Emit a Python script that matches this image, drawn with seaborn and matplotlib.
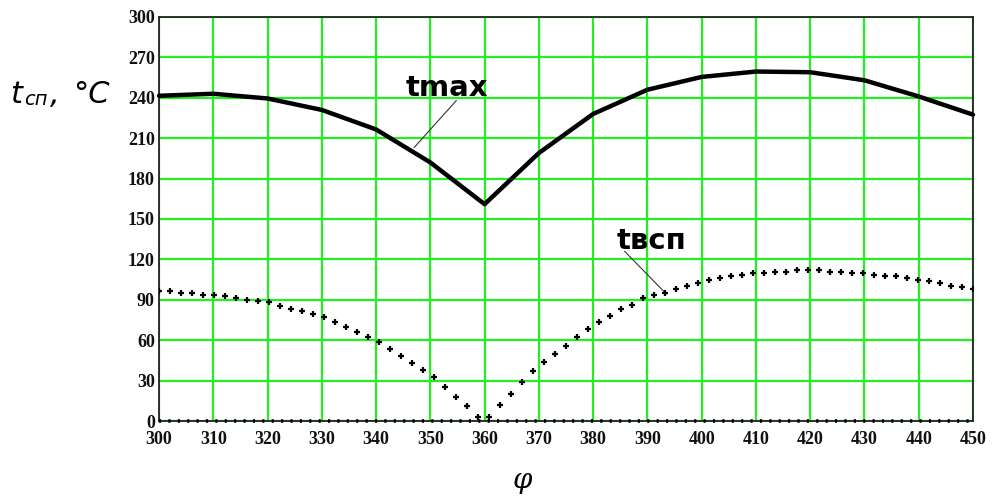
import numpy as np
import pandas as pd
import matplotlib
matplotlib.use("Agg")
import matplotlib.pyplot as plt
import seaborn as sns

# crank angle grid for the coarse maximum-temperature trace
phi_max = [300, 310, 320, 330, 340, 350, 360, 370, 380, 390,
           400, 410, 420, 430, 440, 450]
t_max = [241.5, 243, 239.5, 231, 216.5, 192, 161, 199, 228, 246,
         255.5, 259.5, 259, 253, 241, 227.5]

# ignition temperature, sampled on a finer grid
phi_vsp = np.linspace(300, 450, 75)
t_vsp = [96.2, 96.2, 95, 95, 93.7, 93.7, 92.5, 91.2, 90, 89, 88, 85.3, 83, 82, 79.6, 77,
         73.5, 69.7, 66.1, 62.3, 58.8, 53.4, 48.5, 42.7, 38, 32.4, 25.4, 17.9, 10.8, 3.3, 3.3,
         11.8, 20.3, 28.7, 36.8, 43.7, 49.5, 55.4, 62.3, 68.4, 73.2, 78.1, 82.9, 86.4, 91.3, 93.8,
         95.3, 97.9, 100.4, 102.8, 105, 106.2, 107.4, 108.6, 109.9, 109.9, 110.8, 110.8,
         112, 112, 112, 110.8, 110.8, 109.6, 109.6, 108.6, 107.4, 107.4, 106.2, 105, 104,
         102.8, 100.4, 99.2, 97.8]

# zero reference trace
phi_zero = [300, 450]
t_zero = [0, 0]

x_ticks = list(range(300, 451, 10))
y_ticks = list(range(0, 301, 30))

sns.set_style("white")
plt.rcParams["font.family"] = ["DejaVu Sans"]
plt.rcParams["text.color"] = "black"

fig = plt.figure(figsize=(9.93, 4.96), dpi=100)
ax = fig.add_axes([159 / 993, 1 - 421 / 496, (973 - 159) / 993, (421 - 17) / 496])

df_max = pd.DataFrame({"phi": phi_max, "t": t_max})
df_vsp = pd.DataFrame({"phi": phi_vsp, "t": t_vsp})
df_zero = pd.DataFrame({"phi": phi_zero, "t": t_zero})

sns.lineplot(data=df_max, x="phi", y="t", ax=ax, color="black", linewidth=3.2,
             zorder=4, legend=False)
sns.scatterplot(data=df_vsp, x="phi", y="t", ax=ax, marker="+", s=22, color="black",
                linewidth=1.6, zorder=4, legend=False)
sns.lineplot(data=df_zero, x="phi", y="t", ax=ax, color="black", linewidth=2.6,
             linestyle=(0, (0.6, 2.0)), zorder=5, legend=False)
for ln in ax.lines:
    ln.set_clip_on(False)

ax.set_xlim(300, 450)
ax.set_ylim(0, 300)
ax.set_xticks(x_ticks)
ax.set_yticks(y_ticks)
ax.grid(True, color="#22ee22", linewidth=1.6)
ax.set_axisbelow(True)
ax.tick_params(length=0)
for lab in ax.get_xticklabels() + ax.get_yticklabels():
    lab.set_fontfamily("Liberation Serif")
    lab.set_fontweight("bold")
    lab.set_fontsize(13)
    lab.set_color("#111111")
ax.tick_params(axis="x", pad=7)
ax.tick_params(axis="y", pad=3)
for sp in ax.spines.values():
    sp.set_color("#222222")
    sp.set_linewidth(1.3)
ax.set_xlabel("")
ax.set_ylabel("")

# curve labels with leader lines
ax.text(345.5, 241, "tmax", fontsize=21, fontweight="bold", color="black",
        ha="left", va="baseline")
ax.plot([354.8, 347.0], [238.0, 203.0], color="#333333", linewidth=0.8)
ax.text(384.3, 127.5, "tвсп", fontsize=21, fontweight="bold", color="black",
        ha="left", va="baseline")
ax.plot([385.8, 393.5], [126.0, 94.3], color="#333333", linewidth=0.8)

# y axis title: t with subscript, degree Celsius
fig.text(10 / 993, 1 - 103 / 496, "t", fontsize=22, style="italic", va="baseline")
fig.text(24 / 993, 1 - 105 / 496, "сп", fontsize=14, style="italic", va="baseline")
fig.text(50 / 993, 1 - 103 / 496, ",", fontsize=22, style="italic", va="baseline")
fig.text(73 / 993, 1 - 103 / 496, "°C", fontsize=22, style="italic", va="baseline")

# x axis title
fig.text(522 / 993, 1 - 488 / 496, "φ", fontsize=20, style="italic",
         family="DejaVu Serif", ha="center", va="baseline")

fig.savefig("out.png", dpi=100)
